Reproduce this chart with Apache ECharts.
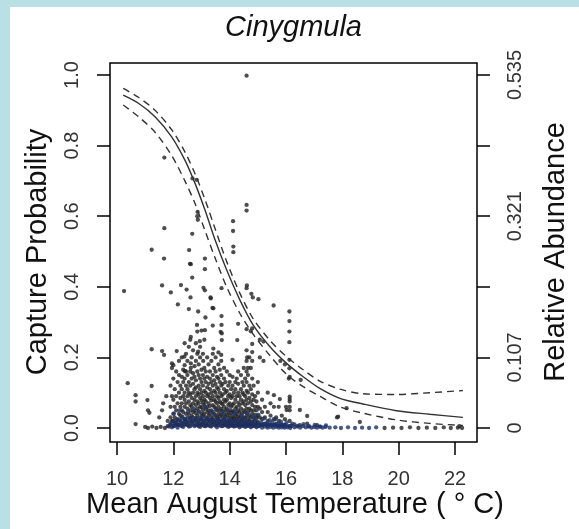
<!DOCTYPE html>
<html><head><meta charset="utf-8">
<script src="https://cdn.jsdelivr.net/npm/echarts@6/dist/echarts.min.js"></script>
<style>html,body{margin:0;padding:0;background:#fff}#c{width:579px;height:529px}</style>
</head><body><div id="c"></div><script>
// ---- data ----
const chartTitle = 'Cinygmula';
const xTicks = [10, 12, 14, 16, 18, 20, 22];
const yTicks = [0, 0.2, 0.4, 0.6, 0.8, 1.0];
const rightTicks = [0, 0.107, 0.214, 0.321, 0.428, 0.535];
const rightLabels = [0, 0.107, 0.321, 0.535];

const fitLine = [[10.22,0.943],[10.76,0.92],[11.35,0.882],[11.94,0.825],[12.41,0.759],[12.77,0.693],[13.12,0.618],[13.48,0.533],[13.89,0.448],[14.36,0.363],[14.83,0.292],[15.43,0.23],[16.02,0.183],[16.61,0.145],[17.2,0.112],[17.91,0.084],[18.73,0.068],[19.92,0.049],[21.1,0.039],[22.28,0.03]];
const upperLine = [[10.22,0.962],[10.76,0.937],[11.35,0.9],[11.94,0.845],[12.41,0.782],[12.77,0.72],[13.12,0.648],[13.48,0.565],[13.89,0.472],[14.36,0.382],[14.83,0.31],[15.43,0.248],[16.02,0.202],[16.61,0.165],[17.2,0.133],[17.91,0.11],[18.73,0.097],[19.92,0.095],[21.1,0.1],[22.28,0.106]];
const lowerLine = [[10.22,0.915],[10.76,0.882],[11.35,0.838],[11.94,0.772],[12.41,0.7],[12.77,0.636],[13.12,0.56],[13.48,0.482],[13.89,0.4],[14.36,0.325],[14.83,0.266],[15.43,0.205],[16.02,0.152],[16.61,0.117],[17.2,0.09],[17.91,0.06],[18.73,0.042],[19.92,0.023],[21.1,0.013],[22.28,0.007]];

const sparsePoints = [[14.6,0.998],[11.68,0.766],[12.68,0.707],[12.83,0.703],[12.85,0.6],[12.87,0.59],[12.86,0.612],[11.68,0.566],[12.67,0.55],[14.12,0.586],[14.12,0.558],[14.6,0.632],[14.6,0.616],[11.23,0.505],[14.13,0.514],[14.13,0.498],[11.67,0.48],[12.56,0.504],[12.59,0.465],[13.12,0.48],[13.12,0.45],[12.62,0.464],[12.67,0.426],[10.25,0.388],[11.6,0.404],[11.91,0.384],[12.27,0.405],[12.47,0.392],[12.61,0.37],[13.07,0.397],[13.12,0.39],[13.71,0.396],[13.32,0.37],[13.39,0.34],[12.16,0.35],[12.55,0.337],[12.88,0.33],[13.33,0.367],[13.42,0.339],[13.14,0.313],[13.71,0.317],[13.71,0.292],[12.84,0.292],[12.85,0.273],[13.0,0.276],[13.72,0.268],[13.72,0.249],[12.62,0.258],[12.6,0.25],[12.94,0.246],[14.61,0.404],[14.6,0.396],[14.77,0.38],[14.82,0.37],[15.02,0.365],[15.56,0.347],[16.12,0.33],[16.12,0.303],[16.12,0.273],[16.12,0.243],[14.3,0.295],[14.6,0.28],[14.75,0.274],[14.8,0.282],[13.12,0.277],[13.4,0.29],[13.68,0.272],[14.27,0.249],[14.8,0.238],[15.07,0.25],[15.2,0.245],[11.23,0.223],[11.6,0.218],[11.67,0.207],[12.12,0.218],[11.95,0.183],[12.0,0.178],[12.39,0.202],[12.88,0.216],[13.42,0.225],[13.6,0.214],[13.7,0.207],[13.06,0.19],[12.62,0.183],[12.62,0.17],[12.41,0.161],[14.1,0.193],[14.62,0.2],[14.65,0.17],[15.07,0.2],[15.2,0.19],[15.8,0.19],[15.96,0.18],[16.12,0.193],[16.12,0.169],[16.1,0.14],[16.13,0.145],[16.52,0.136],[10.38,0.127],[10.66,0.093],[10.66,0.075],[11.23,0.119],[11.08,0.079],[10.66,0.011],[11.1,0.05],[11.15,0.043],[11.64,0.07],[11.5,0.03],[11.6,0.05],[11.75,0.09],[11.8,0.02],[11.0,0.003],[11.1,0.0],[11.25,0.004],[11.4,0.0],[11.55,0.003],[11.7,0.0],[11.8,0.005]];

const corePoints = [
[11.9,0.01],[11.9,0.03],[11.9,0.06],[11.9,0.12],[11.95,0.02],[11.95,0.09],[11.95,0.17],
[12.0,0.005],[12.0,0.02],[12.0,0.04],[12.0,0.08],[12.0,0.14],[12.05,0.01],[12.05,0.03],[12.05,0.06],[12.05,0.11],
[12.1,0.015],[12.1,0.05],[12.1,0.09],[12.1,0.16],[12.15,0.008],[12.15,0.025],[12.15,0.07],[12.15,0.13],
[12.2,0.01],[12.2,0.04],[12.2,0.1],[12.2,0.15],[12.2,0.19],[12.25,0.02],[12.25,0.035],[12.25,0.06],[12.25,0.085],[12.25,0.12],
[12.3,0.005],[12.3,0.03],[12.3,0.05],[12.3,0.07],[12.3,0.11],[12.3,0.145],[12.3,0.2],[12.35,0.015],[12.35,0.045],[12.35,0.09],[12.35,0.13],[12.35,0.165],
[12.4,0.01],[12.4,0.025],[12.4,0.06],[12.4,0.08],[12.4,0.1],[12.4,0.14],[12.4,0.178],[12.4,0.24],[12.45,0.02],[12.45,0.04],[12.45,0.07],[12.45,0.12],[12.45,0.16],[12.45,0.21],
[12.5,0.008],[12.5,0.03],[12.5,0.055],[12.5,0.09],[12.5,0.11],[12.5,0.15],[12.5,0.19],[12.55,0.015],[12.55,0.04],[12.55,0.075],[12.55,0.1],[12.55,0.13],[12.55,0.23],
[12.6,0.005],[12.6,0.025],[12.6,0.05],[12.6,0.065],[12.6,0.095],[12.6,0.12],[12.6,0.16],[12.65,0.018],[12.65,0.035],[12.65,0.06],[12.65,0.085],[12.65,0.14],[12.65,0.2],
[12.7,0.01],[12.7,0.03],[12.7,0.045],[12.7,0.07],[12.7,0.1],[12.7,0.125],[12.7,0.155],[12.7,0.22],[12.75,0.02],[12.75,0.05],[12.75,0.08],[12.75,0.11],[12.75,0.145],[12.75,0.175],
[12.8,0.008],[12.8,0.028],[12.8,0.042],[12.8,0.065],[12.8,0.09],[12.8,0.115],[12.8,0.135],[12.8,0.19],[12.8,0.24],[12.85,0.015],[12.85,0.035],[12.85,0.055],[12.85,0.075],[12.85,0.1],[12.85,0.16],[12.85,0.21],
[12.9,0.005],[12.9,0.022],[12.9,0.048],[12.9,0.07],[12.9,0.095],[12.9,0.12],[12.9,0.15],[12.9,0.18],[12.95,0.012],[12.95,0.03],[12.95,0.06],[12.95,0.085],[12.95,0.11],[12.95,0.14],[12.95,0.2],[12.95,0.23],
[13.0,0.008],[13.0,0.025],[13.0,0.04],[13.0,0.058],[13.0,0.078],[13.0,0.1],[13.0,0.13],[13.0,0.165],[13.05,0.015],[13.05,0.035],[13.05,0.05],[13.05,0.07],[13.05,0.09],[13.05,0.12],[13.05,0.15],[13.05,0.21],
[13.1,0.005],[13.1,0.02],[13.1,0.04],[13.1,0.065],[13.1,0.08],[13.1,0.105],[13.1,0.14],[13.1,0.17],[13.1,0.25],[13.15,0.012],[13.15,0.03],[13.15,0.055],[13.15,0.075],[13.15,0.1],[13.15,0.13],[13.15,0.16],
[13.2,0.008],[13.2,0.025],[13.2,0.045],[13.2,0.06],[13.2,0.09],[13.2,0.115],[13.2,0.145],[13.2,0.2],[13.25,0.018],[13.25,0.035],[13.25,0.05],[13.25,0.07],[13.25,0.095],[13.25,0.125],[13.25,0.18],
[13.3,0.005],[13.3,0.022],[13.3,0.04],[13.3,0.062],[13.3,0.085],[13.3,0.11],[13.3,0.14],[13.3,0.16],[13.35,0.015],[13.35,0.03],[13.35,0.05],[13.35,0.078],[13.35,0.1],[13.35,0.13],[13.35,0.19],
[13.4,0.01],[13.4,0.025],[13.4,0.045],[13.4,0.065],[13.4,0.09],[13.4,0.12],[13.4,0.15],[13.4,0.21],[13.45,0.018],[13.45,0.04],[13.45,0.06],[13.45,0.08],[13.45,0.105],[13.45,0.135],[13.45,0.17],
[13.5,0.006],[13.5,0.022],[13.5,0.035],[13.5,0.055],[13.5,0.075],[13.5,0.1],[13.5,0.125],[13.5,0.16],[13.5,0.2],[13.55,0.014],[13.55,0.03],[13.55,0.05],[13.55,0.07],[13.55,0.09],[13.55,0.115],[13.55,0.145],
[13.6,0.008],[13.6,0.025],[13.6,0.04],[13.6,0.06],[13.6,0.085],[13.6,0.11],[13.6,0.14],[13.6,0.18],[13.65,0.016],[13.65,0.033],[13.65,0.05],[13.65,0.075],[13.65,0.1],[13.65,0.13],[13.65,0.165],
[13.7,0.005],[13.7,0.02],[13.7,0.038],[13.7,0.055],[13.7,0.07],[13.7,0.09],[13.7,0.12],[13.7,0.15],[13.7,0.19],[13.75,0.012],[13.75,0.03],[13.75,0.048],[13.75,0.068],[13.75,0.095],[13.75,0.125],
[13.8,0.008],[13.8,0.022],[13.8,0.04],[13.8,0.06],[13.8,0.08],[13.8,0.11],[13.8,0.14],[13.8,0.17],[13.85,0.015],[13.85,0.032],[13.85,0.05],[13.85,0.075],[13.85,0.1],[13.85,0.13],
[13.9,0.006],[13.9,0.02],[13.9,0.038],[13.9,0.055],[13.9,0.08],[13.9,0.105],[13.9,0.16],[13.95,0.012],[13.95,0.028],[13.95,0.045],[13.95,0.065],[13.95,0.09],[13.95,0.12],
[14.0,0.005],[14.0,0.018],[14.0,0.035],[14.0,0.05],[14.0,0.07],[14.0,0.095],[14.0,0.13],[14.0,0.15],[14.05,0.01],[14.05,0.025],[14.05,0.042],[14.05,0.06],[14.05,0.085],[14.05,0.11],
[14.1,0.006],[14.1,0.018],[14.1,0.03],[14.1,0.048],[14.1,0.065],[14.1,0.09],[14.1,0.12],[14.1,0.145],[14.15,0.012],[14.15,0.028],[14.15,0.045],[14.15,0.07],[14.15,0.1],
[14.2,0.005],[14.2,0.02],[14.2,0.035],[14.2,0.055],[14.2,0.08],[14.2,0.11],[14.2,0.13],[14.25,0.01],[14.25,0.025],[14.25,0.04],[14.25,0.06],[14.25,0.09],[14.25,0.14],
[14.3,0.006],[14.3,0.018],[14.3,0.032],[14.3,0.05],[14.3,0.072],[14.3,0.1],[14.3,0.125],[14.3,0.16],[14.35,0.012],[14.35,0.028],[14.35,0.045],[14.35,0.065],[14.35,0.09],
[14.4,0.005],[14.4,0.02],[14.4,0.035],[14.4,0.055],[14.4,0.08],[14.4,0.11],[14.4,0.15],[14.45,0.01],[14.45,0.025],[14.45,0.042],[14.45,0.07],[14.45,0.1],[14.45,0.13],
[14.5,0.006],[14.5,0.018],[14.5,0.03],[14.5,0.05],[14.5,0.075],[14.5,0.095],[14.5,0.12],[14.5,0.17],[14.55,0.012],[14.55,0.028],[14.55,0.045],[14.55,0.065],[14.55,0.09],[14.55,0.14],
[14.6,0.005],[14.6,0.018],[14.6,0.035],[14.6,0.055],[14.6,0.08],[14.6,0.105],[14.6,0.13],[14.6,0.16],[14.6,0.19],[14.6,0.22],[14.65,0.01],[14.65,0.025],[14.65,0.045],[14.65,0.07],[14.65,0.1],[14.65,0.15],
[14.7,0.006],[14.7,0.02],[14.7,0.035],[14.7,0.055],[14.7,0.085],[14.7,0.12],[14.7,0.2],[14.75,0.012],[14.75,0.03],[14.75,0.05],[14.75,0.075],[14.75,0.11],[14.75,0.17],
[14.8,0.005],[14.8,0.018],[14.8,0.04],[14.8,0.065],[14.8,0.095],[14.8,0.14],[14.8,0.19],[14.8,0.215],[14.85,0.01],[14.85,0.028],[14.85,0.05],[14.85,0.08],[14.85,0.12],
[14.9,0.006],[14.9,0.02],[14.9,0.038],[14.9,0.06],[14.9,0.09],[14.95,0.012],[14.95,0.03],[14.95,0.05],[14.95,0.075],
[15.0,0.005],[15.0,0.018],[15.0,0.035],[15.0,0.06],[15.0,0.1],[15.0,0.13],[15.07,0.01],[15.07,0.03],[15.07,0.055],[15.15,0.008],[15.15,0.025],[15.15,0.045],[15.15,0.08],
[15.25,0.012],[15.25,0.03],[15.25,0.06],[15.35,0.006],[15.35,0.02],[15.35,0.045],[15.35,0.1],[15.45,0.01],[15.45,0.035],[15.45,0.07],
[15.57,0.008],[15.57,0.025],[15.57,0.06],[15.57,0.093],[15.65,0.012],[15.65,0.03],[15.75,0.006],[15.75,0.02],[15.74,0.06],[15.78,0.082],[15.85,0.01],[15.85,0.035],[15.96,0.008],[15.96,0.025],
[16.0,0.06],[16.02,0.051],[16.13,0.005],[16.13,0.02],[16.13,0.05],[16.13,0.06],[16.13,0.075],[16.13,0.082],[16.13,0.089],[16.3,0.01],[16.49,0.008],[16.49,0.051],[16.75,0.012],[16.75,0.034],[17.1,0.008],[17.81,0.03],[17.85,0.032],[18.15,0.056],[18.62,0.017]
];

const zeroPoints = [[11.85,0.004],[11.9,0.012],[11.95,0.002],[12.0,0.018],[12.05,0.006],[12.1,0.014],[12.15,0.001],[12.2,0.022],[12.25,0.008],[12.3,0.015],[12.35,0.003],[12.4,0.025],[12.45,0.01],[12.5,0.018],[12.55,0.004],[12.6,0.028],[12.65,0.012],[12.7,0.02],[12.75,0.005],[12.8,0.026],[12.85,0.01],[12.9,0.017],[12.95,0.003],[13.0,0.024],[13.05,0.011],[13.1,0.019],[13.15,0.005],[13.2,0.027],[13.25,0.012],[13.3,0.02],[13.35,0.004],[13.4,0.023],[13.45,0.009],[13.5,0.016],[13.55,0.002],[13.6,0.025],[13.65,0.011],[13.7,0.018],[13.75,0.005],[13.8,0.022],[13.85,0.008],[13.9,0.015],[13.95,0.003],[14.0,0.02],[14.05,0.01],[14.1,0.016],[14.15,0.004],[14.2,0.022],[14.25,0.009],[14.3,0.014],[14.35,0.002],[14.4,0.019],[14.45,0.008],[14.5,0.013],[14.55,0.003],[14.6,0.018],[14.65,0.007],[14.7,0.012],[14.75,0.002],[14.8,0.016],[14.85,0.006],[14.9,0.01],[14.95,0.002],[15.0,0.013],[15.05,0.005],[15.1,0.009],[15.15,0.001],[15.2,0.011],[15.25,0.004],[15.3,0.008],[15.35,0.001],[15.4,0.01],[15.45,0.003],[15.5,0.007],[15.55,0.001],[15.6,0.009],[15.65,0.003],[15.7,0.006],[15.75,0.001],[15.8,0.008],[15.85,0.002],[15.9,0.005],[15.95,0.001],[16.0,0.007],[16.05,0.002],[16.1,0.005],[16.15,0.0],[16.2,0.006],[16.3,0.002],[16.4,0.004],[16.5,0.001],[16.6,0.005],[16.7,0.002],[16.8,0.004],[16.9,0.001],[17.0,0.003],[17.1,0.001],[17.2,0.004],[17.3,0.001],[17.4,0.003],[17.55,0.001],[17.75,0.002],[17.95,0.0],[18.2,0.002],[18.45,0.0],[18.7,0.001],[18.95,0.0],[19.2,0.002]];

const zeroPointsUpper = [[12.02,0.041],[12.12,0.022],[12.22,0.05],[12.32,0.033],[12.42,0.018],[12.52,0.046],[12.62,0.029],[12.72,0.055],[12.82,0.021],[12.92,0.044],[13.02,0.031],[13.12,0.058],[13.22,0.024],[13.32,0.047],[13.42,0.035],[13.52,0.052],[13.62,0.02],[13.72,0.043],[13.82,0.03],[13.92,0.049],[14.02,0.023],[14.12,0.038],[14.22,0.045],[14.32,0.02],[14.42,0.036],[14.52,0.028],[14.62,0.042],[14.72,0.019],[14.82,0.033],[14.92,0.025],[15.02,0.038],[15.12,0.016],[15.22,0.027],[15.32,0.013],[15.42,0.022],[15.52,0.017],[15.62,0.025],[15.72,0.011],[15.82,0.018],[15.92,0.009],[16.02,0.016],[16.22,0.012],[16.42,0.006],[16.62,0.011],[16.82,0.005],[17.02,0.009],[17.22,0.004],[17.42,0.007]];

const tailPoints = [[19.5,0.0],[19.8,0.001],[20.1,0.0],[20.4,0.002],[20.7,0.0],[21.0,0.001],[21.3,0.0],[21.6,0.002],[21.85,0.0],[22.1,0.001],[22.15,0.005],[22.25,0.0]];

// ---- chart ----
const FONT = '"Liberation Sans", Arial, sans-serif';
const xMin = 9.751, xMax = 22.78;
const yMin = -0.0397, yMax = 1.034;
const R = 0.535;
const chart = echarts.init(document.getElementById('c'), null, {renderer: 'canvas'});
const tickStyle = {show: true, length: 13, lineStyle: {color: '#000', width: 1.5}};
const dotSeries = (data, color) => ({type: 'scatter', data: data, symbolSize: 4.3, itemStyle: {color: color}, silent: true, z: 3});
const lineSeries = (data, dashed) => ({type: 'line', data: data, showSymbol: false, smooth: 0.3, silent: true, z: 4,
  lineStyle: {color: '#333', width: 1.4, type: dashed ? [7, 5] : 'solid'}});

chart.setOption({
  animation: false,
  backgroundColor: '#fff',
  grid: {left: 110, top: 63, right: 102, bottom: 87, show: true, borderColor: '#000', borderWidth: 1.5, backgroundColor: 'transparent'},
  xAxis: {type: 'value', min: xMin, max: xMax, splitLine: {show: false}, axisLine: {show: false, onZero: false},
    axisTick: Object.assign({customValues: xTicks}, tickStyle),
    axisLabel: {customValues: xTicks, margin: 27, fontSize: 20, color: '#333', fontFamily: FONT}},
  yAxis: [
    {type: 'value', min: yMin, max: yMax, splitLine: {show: false}, axisLine: {show: false, onZero: false},
      axisTick: Object.assign({customValues: yTicks}, tickStyle),
      axisLabel: {customValues: yTicks, rotate: 90, margin: 28, fontSize: 20, color: '#333', fontFamily: FONT,
        formatter: v => v.toFixed(1)}},
    {type: 'value', position: 'right', min: yMin * R, max: yMax * R, splitLine: {show: false}, axisLine: {show: false, onZero: false},
      axisTick: Object.assign({customValues: rightTicks}, tickStyle),
      axisLabel: {customValues: rightLabels, rotate: 90, margin: 28, fontSize: 20, color: '#333', fontFamily: FONT,
        formatter: v => (v === 0 ? '0' : String(v))}}
  ],
  graphic: [
    {type: 'rect', shape: {x: 0, y: 0, width: 579, height: 7}, style: {fill: '#b9e0e4'}, silent: true},
    {type: 'rect', shape: {x: 0, y: 0, width: 10, height: 529}, style: {fill: '#b9e0e4'}, silent: true},
    {type: 'text', x: 293.5, y: 28, style: {text: chartTitle, textAlign: 'center', textVerticalAlign: 'middle', font: 'italic 29px ' + FONT, fill: '#111'}},
    {type: 'text', x: 38, y: 252, rotation: Math.PI / 2, style: {text: 'Capture Probability', textAlign: 'center', textVerticalAlign: 'middle', font: '29px ' + FONT, fill: '#111'}},
    {type: 'text', x: 556, y: 252, rotation: Math.PI / 2, style: {text: 'Relative Abundance', textAlign: 'center', textVerticalAlign: 'middle', font: '29px ' + FONT, fill: '#111'}},
    {type: 'text', x: 295, y: 505, style: {text: 'Mean August Temperature ( ° C)', textAlign: 'center', textVerticalAlign: 'middle', font: '29px ' + FONT, fill: '#111'}}
  ],
  series: [
    dotSeries(sparsePoints, '#222'),
    dotSeries(corePoints, '#222'),
    dotSeries(tailPoints, '#222'),
    dotSeries(zeroPointsUpper, '#22366e'),
    dotSeries(zeroPoints, '#1c2f6a'),
    lineSeries(fitLine, false),
    lineSeries(upperLine, true),
    lineSeries(lowerLine, true)
  ]
});
</script></body></html>
